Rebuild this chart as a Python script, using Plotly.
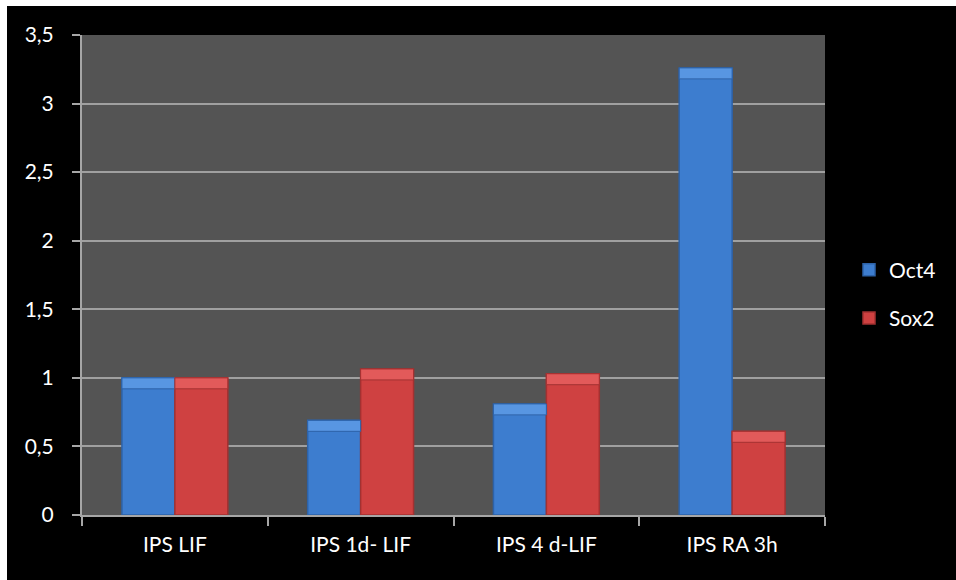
import plotly.graph_objects as go

categories = ["IPS LIF", "IPS 1d- LIF", "IPS 4 d-LIF", "IPS RA 3h"]
oct4 = [1.0, 0.69, 0.81, 3.26]
sox2 = [1.0, 1.065, 1.03, 0.61]
y_ticks = [0, 0.5, 1, 1.5, 2, 2.5, 3, 3.5]

FONT = "Lato"
bevel = 0.08

fig = go.Figure()
fig.add_trace(go.Bar(name="Oct4", x=categories, y=oct4, offsetgroup="a", legendgroup="g1",
                     marker=dict(color="#3d7dcf", line=dict(color="#2d62a8", width=1.5))))
fig.add_trace(go.Bar(name="Sox2", x=categories, y=sox2, offsetgroup="b", legendgroup="g2",
                     marker=dict(color="#cf4141", line=dict(color="#a33131", width=1.5))))
# top bevel highlights
fig.add_trace(go.Bar(x=categories, y=[bevel] * len(oct4), base=[v - bevel for v in oct4],
                     offsetgroup="a", showlegend=False, hoverinfo="skip",
                     marker=dict(color="#5896e2", line=dict(color="#2d62a8", width=1))))
fig.add_trace(go.Bar(x=categories, y=[bevel] * len(sox2), base=[v - bevel for v in sox2],
                     offsetgroup="b", showlegend=False, hoverinfo="skip",
                     marker=dict(color="#e25a5a", line=dict(color="#a33131", width=1))))

L, R, T, B = 82, 131, 35, 65
W, H = 956, 580
pw, ph = W - L - R, H - T - B

fig.update_layout(
    width=W, height=H,
    margin=dict(l=L, r=R, t=T, b=B),
    paper_bgcolor="black",
    plot_bgcolor="#545454",
    barmode="group",
    bargap=0.43,
    bargroupgap=0,
    separators=", ",
    font=dict(family=FONT, size=21, color="white"),
    showlegend=True,
    legend=dict(x=(849 - L) / pw, xanchor="left", y=(B + 580 - 294 - 580 + 515 - B) / ph,
                yanchor="middle",
                font=dict(family=FONT, size=21, color="white"),
                bgcolor="rgba(0,0,0,0)", tracegroupgap=18, itemwidth=30),
    shapes=[
        # white page strips at top and left
        dict(type="rect", xref="paper", yref="paper",
             x0=-(L + 5) / pw, x1=(W + 5 - L) / pw,
             y0=(H - B - 6) / ph, y1=(H - B + 5) / ph,
             fillcolor="white", line=dict(width=0)),
        dict(type="rect", xref="paper", yref="paper",
             x0=-(L + 5) / pw, x1=(7 - L) / pw,
             y0=-(B + 5) / ph, y1=(H - B + 5) / ph,
             fillcolor="white", line=dict(width=0)),
    ],
)

fig.update_xaxes(
    showgrid=False, showline=True, linecolor="#a6a6a6", linewidth=2,
    ticks="outside", tickson="boundaries", ticklen=9, tickwidth=2, tickcolor="#a6a6a6",
    tickfont=dict(family=FONT, size=21, color="white"),
    ticklabelstandoff=10,
)
fig.update_yaxes(
    range=[0, 3.5], tickvals=y_ticks,
    showgrid=True, gridcolor="#a0a0a0", gridwidth=2,
    showline=True, linecolor="#a6a6a6", linewidth=2,
    ticks="outside", ticklen=8, tickwidth=2, tickcolor="#a6a6a6",
    tickfont=dict(family=FONT, size=21, color="white"),
    ticklabelstandoff=14, zeroline=False,
)

fig.write_html("out.html")
